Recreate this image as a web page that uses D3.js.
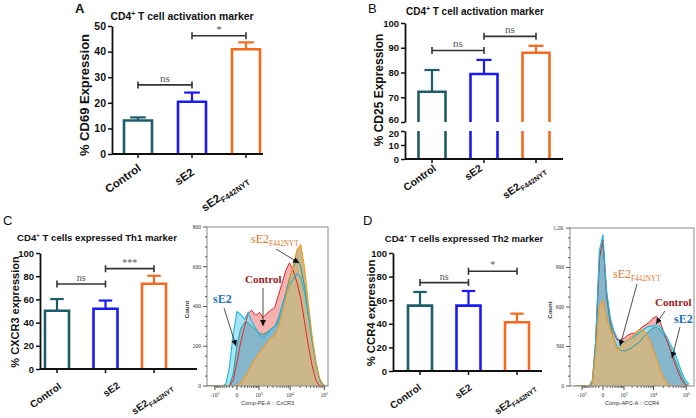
<!DOCTYPE html>
<html><head><meta charset="utf-8">
<script src="https://cdn.jsdelivr.net/npm/d3@7"></script>
<style>body{margin:0;background:#fff}svg{display:block}</style>
</head><body>
<svg id="c" width="696" height="418"></svg>
<script>
// ---------------- DATA ----------------
const categories = ["Control", "sE2", "sE2F442NYT"];
const catMain = ["Control", "sE2", "sE2"];
const catSub = ["", "", "F442NYT"];

// Panel A – CD69
const cd69Means = [13.1, 20.4, 40.9];
const cd69Errors = [1.2, 3.6, 2.7];
const cd69Ticks = [0, 10, 20, 30, 40, 50];
const cd69Sig = [{from: 0, to: 1, y: 27, label: "ns"}, {from: 1, to: 2, y: 46.2, label: "*"}];

// Panel B – CD25 (broken axis)
const cd25Means = [72.2, 79.4, 88.0];
const cd25Errors = [8.8, 5.7, 2.8];
const cd25TicksUpper = [60, 70, 80, 90, 100];
const cd25TicksLower = [0, 10, 20];
const cd25Sig = [{from: 0, to: 1, y: 88.9, label: "ns"}, {from: 1, to: 2, y: 94.6, label: "ns"}];

// Panel C – CXCR3
const cxcr3Means = [50.2, 52.0, 73.5];
const cxcr3Errors = [10.1, 7.0, 6.9];
const pctTicks = [0, 20, 40, 60, 80, 100];
const cxcr3Sig = [{from: 0, to: 1, y: 73.3, label: "ns"}, {from: 1, to: 2, y: 86.5, label: "***"}];

// Panel D – CCR4
const ccr4Means = [55.4, 55.4, 41.3];
const ccr4Errors = [11.6, 12.4, 7.3];
const ccr4Sig = [{from: 0, to: 1, y: 74.9, label: "ns"}, {from: 1, to: 2, y: 84.5, label: "*"}];

// Flow histograms (fluorescence bins shared by all curves)
const histBins = [-1900,-1400,-1050,-750,-500,-330,-200,-85,0,85,200,330,500,750,1050,1400,1900,2500,3400,4400,5700,7400,9600,12500,16000,20700,26700,34300,44000,57000,73000,94000,121000];
// CXCR3 histogram counts
const cxcr3Control = [0,0,0,0,0,0,0,30,120,220,300,365,380,355,370,345,365,380,395,455,515,580,620,580,520,440,320,205,105,30,0,0,0];
const cxcr3SE2     = [0,0,0,0,0,10,90,260,375,360,335,370,325,290,255,240,260,280,300,320,405,455,505,540,565,545,470,355,240,120,30,5,0];
const cxcr3SE2F    = [0,0,0,0,0,0,0,0,0,15,45,70,105,140,170,190,215,240,255,295,355,440,520,610,685,710,595,420,255,120,40,5,0];
const cxcr3Other   = [0,0,0,0,0,0,0,60,200,290,320,320,300,280,265,260,270,285,300,340,400,470,540,600,640,600,500,360,230,110,30,0,0];
const cxcr3YTicks = [0, 200, 400, 600, 800];
// CCR4 histogram counts
const ccr4Control = [0,0,0,0,0,30,330,980,1110,700,500,410,350,350,365,385,400,400,425,450,465,485,515,530,485,410,335,260,180,105,45,10,0];
const ccr4SE2     = [0,0,0,0,0,45,350,1030,1150,730,515,425,365,335,335,350,365,380,400,425,440,455,455,465,450,410,365,310,260,180,105,45,15];
const ccr4SE2F    = [0,0,0,0,0,30,250,600,650,515,425,365,275,295,320,350,370,400,425,425,400,350,275,200,120,60,15,0,0,0,0,0,0];
const ccr4Other   = [0,0,0,0,0,20,300,950,1100,680,470,360,300,270,265,275,290,310,330,360,390,420,440,445,430,390,340,280,210,140,70,20,0];
const ccr4YTicks = [0, 300, 600, 900, 1200];
const ccr4YLabels = ["0", "300", "600", "900", "1.2K"];
const histXTicks = [-1000, 0, 1000, 10000, 100000];
const histXBase = ["-10", "0", "10", "10", "10"];
const histXExp = ["3", "", "3", "4", "5"];

// ---------------- STYLE ----------------
const barColors = ["#1f5c69", "#1a1af2", "#f46a1e"];
const SANS = "'Liberation Sans', Arial, sans-serif";
const SERIF = "'Liberation Serif', 'Times New Roman', serif";
const svg = d3.select("#c");

svg.append("defs").append("marker").attr("id", "arr")
  .attr("viewBox", "0 0 6 6").attr("refX", 6).attr("refY", 3)
  .attr("markerWidth", 6).attr("markerHeight", 6).attr("markerUnits", "userSpaceOnUse")
  .attr("orient", "auto").append("path").attr("d", "M0,0L6,3L0,6Z").attr("fill", "#111");

function title(x, y, parts, fs) {
  const t = svg.append("text").attr("x", x).attr("y", y).attr("text-anchor", "middle")
    .attr("font-family", SANS).attr("font-weight", "bold").attr("font-size", fs).attr("fill", "#111");
  t.append("tspan").text("CD4");
  t.append("tspan").attr("font-size", fs * 0.65).attr("dy", -4).text("+");
  t.append("tspan").attr("dy", 4).text(parts);
}
function letter(x, y, s, w) {
  svg.append("text").attr("x", x).attr("y", y).attr("font-family", SANS)
    .attr("font-weight", w).attr("font-size", 13).attr("fill", "#111").text(s);
}
function yLabel(x, y, s, fs) {
  svg.append("text").attr("transform", `translate(${x},${y}) rotate(-90)`).attr("text-anchor", "middle")
    .attr("font-family", SANS).attr("font-weight", "bold").attr("font-size", fs).attr("fill", "#111").text(s);
}
function styleAxis(g, fs) {
  g.select(".domain").attr("stroke", "#111").attr("stroke-width", 1.8);
  g.selectAll(".tick line").attr("stroke", "#111").attr("stroke-width", 1.5);
  g.selectAll(".tick text").attr("font-family", SANS).attr("font-weight", "bold")
    .attr("font-size", fs).attr("fill", "#111");
}
function catLabels(g, x, y0, fs, dx, dy) {
  categories.forEach((c, i) => {
    const t = g.append("text").attr("transform", `translate(${x(c) + dx[i]},${y0 + dy[i]}) rotate(-35)`)
      .attr("text-anchor", "end").attr("font-family", SANS).attr("font-weight", "bold")
      .attr("font-size", fs).attr("fill", "#111");
    t.append("tspan").text(catMain[i]);
    if (catSub[i]) t.append("tspan").attr("font-size", fs * 0.68).attr("dy", 3).text(catSub[i]);
  });
}
function xAxisLine(g, x, ax, axEnd, y0) {
  g.append("line").attr("x1", ax).attr("x2", axEnd).attr("y1", y0).attr("y2", y0)
    .attr("stroke", "#111").attr("stroke-width", 1.8);
  g.selectAll(".xt").data(categories).join("line").attr("x1", d => x(d)).attr("x2", d => x(d))
    .attr("y1", y0).attr("y2", y0 + 4).attr("stroke", "#111").attr("stroke-width", 1.5);
}
function errorBars(g, x, y, means, errs, bw) {
  categories.forEach((c, i) => {
    const cx = x(c), top = y(means[i] + errs[i]);
    g.append("line").attr("x1", cx).attr("x2", cx).attr("y1", y(means[i])).attr("y2", top)
      .attr("stroke", barColors[i]).attr("stroke-width", 2.2);
    g.append("line").attr("x1", cx - bw * 0.28).attr("x2", cx + bw * 0.28).attr("y1", top).attr("y2", top)
      .attr("stroke", barColors[i]).attr("stroke-width", 2.2);
  });
}
function brackets(g, x, y, sig, fs) {
  sig.forEach(s => {
    const x1 = x(categories[s.from]), x2 = x(categories[s.to]), yy = y(s.y);
    g.append("path").attr("d", `M${x1},${yy - 3.5}V${yy + 3.5}M${x1},${yy}H${x2}M${x2},${yy - 3.5}V${yy + 3.5}`)
      .attr("fill", "none").attr("stroke", "#333").attr("stroke-width", 1.6);
    g.append("text").attr("x", (x1 + x2) / 2).attr("y", yy - 3).attr("text-anchor", "middle")
      .attr("font-family", SERIF).attr("font-size", fs).attr("fill", "#555").text(s.label);
  });
}
function barPanel(o) {
  const g = svg.append("g");
  const x = d3.scalePoint().domain(categories).range([o.cx0, o.cx1]);
  const y = d3.scaleLinear().domain([0, o.ymax]).range([o.y0, o.y1]);
  g.selectAll(".bar").data(categories).join("path")
    .attr("d", (c, i) => `M${x(c) - o.bw / 2},${y(0)}V${y(o.means[i])}H${x(c) + o.bw / 2}V${y(0)}`)
    .attr("fill", "#fff").attr("stroke", (c, i) => barColors[i]).attr("stroke-width", 2.6);
  errorBars(g, x, y, o.means, o.errs, o.bw);
  const ya = g.append("g").attr("transform", `translate(${o.ax},0)`)
    .call(d3.axisLeft(y).tickValues(o.ticks).tickSize(4).tickSizeOuter(0).tickPadding(2));
  styleAxis(ya, o.tfs);
  xAxisLine(g, x, o.ax, o.axEnd, y(0));
  brackets(g, x, y, o.sig, o.sfs);
  catLabels(g, x, y(0), o.cfs, o.ldx, o.ldy);
}

// ---------------- PANEL A ----------------
letter(75, 13, "A", "bold");
title(182, 20, " T cell activation marker", 10.4);
yLabel(89, 95, "% CD69 Expression", 13);
barPanel({cx0: 138, cx1: 246, ax: 112, axEnd: 263, y0: 154, y1: 26, ymax: 50, bw: 28,
  means: cd69Means, errs: cd69Errors, ticks: cd69Ticks, sig: cd69Sig, tfs: 10.5, sfs: 11, cfs: 11.5,
  ldx: [4, 3, 3], ldy: [16, 20, 27]});

// ---------------- PANEL B (broken axis) ----------------
letter(368, 13, "B", "normal");
title(475, 15, " T cell activation marker", 10);
yLabel(383, 90, "% CD25 Expression", 12);
(function () {
  const g = svg.append("g");
  const x = d3.scalePoint().domain(categories).range([432, 536]);
  const yU = d3.scaleLinear().domain([60, 100]).range([122, 23]);
  const yL = d3.scaleLinear().domain([0, 20]).range([159, 131]);
  const bw = 27;
  categories.forEach((c, i) => {
    const l = x(c) - bw / 2, r = x(c) + bw / 2;
    g.append("path").attr("d", `M${l},${yL(0)}V${yL(20)}M${l},${yU(60)}V${yU(cd25Means[i])}H${r}V${yU(60)}M${r},${yL(20)}V${yL(0)}`)
      .attr("fill", "none").attr("stroke", barColors[i]).attr("stroke-width", 2.6);
  });
  errorBars(g, x, yU, cd25Means, cd25Errors, bw);
  const a1 = g.append("g").attr("transform", "translate(405,0)")
    .call(d3.axisLeft(yU).tickValues(cd25TicksUpper).tickSize(4).tickSizeOuter(0).tickPadding(2));
  styleAxis(a1, 9.5);
  a1.selectAll(".tick text").filter(d => d === 60).attr("dy", "0.1em");
  const a2 = g.append("g").attr("transform", "translate(405,0)")
    .call(d3.axisLeft(yL).tickValues(cd25TicksLower).tickSize(4).tickSizeOuter(0).tickPadding(2));
  styleAxis(a2, 9.5);
  a2.selectAll(".tick text").filter(d => d === 20).attr("dy", "0.55em");
  xAxisLine(g, x, 405, 563, yL(0));
  brackets(g, x, yU, cd25Sig, 11);
  catLabels(g, x, yL(0), 10.5, [5, -1, 10], [11, 11, 12]);
})();

// ---------------- PANEL C ----------------
letter(3, 225, "C", "normal");
title(97, 241, " T cells expressed Th1 marker", 9.6);
yLabel(19, 312, "% CXCR3 expression", 11);
barPanel({cx0: 57, cx1: 154, ax: 40, axEnd: 197, y0: 369, y1: 253, ymax: 100, bw: 24,
  means: cxcr3Means, errs: cxcr3Errors, ticks: pctTicks, sig: cxcr3Sig, tfs: 9.5, sfs: 10, cfs: 10,
  ldx: [5, 15, 19], ldy: [19, 18, 19]});

// ---------------- PANEL D ----------------
letter(363, 225, "D", "normal");
title(464, 242, " T cells expressed Th2 marker", 9.5);
yLabel(375, 313, "% CCR4 expression", 11.3);
barPanel({cx0: 420, cx1: 517, ax: 393, axEnd: 542, y0: 371, y1: 253, ymax: 100, bw: 24,
  means: ccr4Means, errs: ccr4Errors, ticks: pctTicks, sig: ccr4Sig, tfs: 9.5, sfs: 10, cfs: 10,
  ldx: [2, 4, 19], ldy: [18, 18, 17]});

// ---------------- HISTOGRAMS ----------------
function histPanel(o) {
  const g = svg.append("g");
  const x = d3.scaleSymlog().constant(300).domain(o.domain).range([o.x0, o.x1]);
  const y = d3.scaleLinear().domain([0, o.ymax]).range([o.y0, o.y1]);
  const cid = "clip" + o.id;
  svg.select("defs").append("clipPath").attr("id", cid).append("rect")
    .attr("x", o.x0).attr("y", o.y1).attr("width", o.x1 - o.x0).attr("height", o.y0 - o.y1);
  const pg = g.append("g").attr("clip-path", `url(#${cid})`);
  const area = d3.area().x((d, i) => x(histBins[i])).y0(y(0)).y1(d => y(d));
  const line = d3.line().x((d, i) => x(histBins[i])).y(d => y(d));
  pg.append("path").attr("d", area(o.control)).attr("fill", "#f7b2b0");
  pg.append("path").attr("d", area(o.se2)).attr("fill", "#8fdff4").attr("fill-opacity", 0.8);
  pg.append("path").attr("d", area(o.other)).attr("fill", "#6e9db5").attr("fill-opacity", 0.55);
  pg.append("path").attr("d", area(o.se2f)).attr("fill", "#cbb78a");
  pg.append("path").attr("d", line(o.other)).attr("fill", "none").attr("stroke", "#2a9d8f").attr("stroke-width", 1);
  pg.append("path").attr("d", line(o.control)).attr("fill", "none").attr("stroke", "#e3262a").attr("stroke-width", 1);
  pg.append("path").attr("d", line(o.se2)).attr("fill", "none").attr("stroke", "#22b6e2").attr("stroke-width", 1.1);
  pg.append("path").attr("d", line(o.se2f)).attr("fill", "none").attr("stroke", "#f79a1e").attr("stroke-width", 1.1);
  g.append("rect").attr("x", o.x0).attr("y", o.y1).attr("width", o.x1 - o.x0).attr("height", o.y0 - o.y1)
    .attr("fill", "none").attr("stroke", "#8a8a8a").attr("stroke-width", 1);
  // y ticks
  const yt = d3.range(0, o.ymax + 0.1, o.ymax / 16);
  g.selectAll(".ym").data(yt).join("line").attr("x1", d => o.x0 - (d % (o.ymax / 4) === 0 ? 4 : 2)).attr("x2", o.x0)
    .attr("y1", d => y(d)).attr("y2", d => y(d)).attr("stroke", "#333").attr("stroke-width", 0.8);
  g.selectAll(".yl").data(o.yticks).join("text").attr("x", o.x0 - 6).attr("y", d => y(d) + 1.8)
    .attr("text-anchor", "end").attr("font-family", SERIF).attr("font-size", 5.5).attr("fill", "#333")
    .text((d, i) => o.ylabels[i]);
  // x ticks
  const minor = [-900,-800,-700,-600,-500,-400,-300,-200,-100,100,200,300,400,500,600,700,800,900,
    2000,3000,4000,5000,6000,7000,8000,9000,20000,30000,40000,50000,60000,70000,80000,90000];
  g.selectAll(".xm").data(minor).join("line").attr("x1", d => x(d)).attr("x2", d => x(d))
    .attr("y1", o.y0).attr("y2", o.y0 + 2).attr("stroke", "#333").attr("stroke-width", 0.7);
  g.selectAll(".xM").data(histXTicks).join("line").attr("x1", d => x(d)).attr("x2", d => x(d))
    .attr("y1", o.y0).attr("y2", o.y0 + 4).attr("stroke", "#333").attr("stroke-width", 0.9);
  histXTicks.forEach((d, i) => {
    const t = g.append("text").attr("x", x(d)).attr("y", o.y0 + 11).attr("text-anchor", "middle")
      .attr("font-family", SERIF).attr("font-size", 5.5).attr("fill", "#333");
    t.append("tspan").text(histXBase[i]);
    if (histXExp[i]) t.append("tspan").attr("font-size", 4).attr("dy", -2.5).text(histXExp[i]);
  });
  g.append("text").attr("x", (o.x0 + o.x1) / 2).attr("y", o.y0 + 19).attr("text-anchor", "middle")
    .attr("font-family", SANS).attr("font-size", 5.5).attr("fill", "#333").text(o.xlabel);
  g.append("text").attr("transform", `translate(${o.x0 - 18},${(o.y0 + o.y1) / 2 + 3}) rotate(-90)`)
    .attr("text-anchor", "middle").attr("font-family", SANS).attr("font-weight", "bold")
    .attr("font-size", 6).attr("fill", "#333").text("Count");
  // annotations
  o.notes.forEach(n => {
    const t = g.append("text").attr("x", n.x).attr("y", n.y).attr("font-family", SERIF)
      .attr("font-weight", n.bold ? "bold" : "normal").attr("font-size", n.fs).attr("fill", n.color);
    t.append("tspan").text(n.main);
    if (n.sub) t.append("tspan").attr("font-size", n.fs * 0.6).attr("dy", 2.5).text(n.sub);
    g.append("line").attr("x1", n.a[0]).attr("y1", n.a[1]).attr("x2", n.a[2]).attr("y2", n.a[3])
      .attr("stroke", "#222").attr("stroke-width", 0.8).attr("marker-end", "url(#arr)");
  });
}

histPanel({id: "h1", domain: [-1900, 128000], x0: 207, x1: 328, y0: 386, y1: 227, ymax: 800,
  control: cxcr3Control, se2: cxcr3SE2, se2f: cxcr3SE2F, other: cxcr3Other,
  yticks: cxcr3YTicks, ylabels: cxcr3YTicks.map(String), xlabel: "Comp-PE-A :: CxCR3",
  notes: [
    {main: "sE2", sub: "F442NYT", x: 251, y: 243, fs: 12, color: "#e0762f", bold: false, a: [276, 249, 299, 263]},
    {main: "Control", x: 245, y: 283, fs: 11, color: "#9e1a1f", bold: true, a: [263, 288, 263, 326]},
    {main: "sE2", x: 213, y: 303, fs: 12, color: "#1f73c0", bold: true, a: [224, 308, 236, 346]}
  ]});

histPanel({id: "h2", domain: [-2700, 173000], x0: 570, x1: 694, y0: 386, y1: 228, ymax: 1200,
  control: ccr4Control, se2: ccr4SE2, se2f: ccr4SE2F, other: ccr4Other,
  yticks: ccr4YTicks, ylabels: ccr4YLabels, xlabel: "Comp-APC-A :: CCR4",
  notes: [
    {main: "sE2", sub: "F442NYT", x: 613, y: 278, fs: 12, color: "#e0762f", bold: false, a: [637, 284, 620, 346]},
    {main: "Control", x: 655, y: 306, fs: 11, color: "#9e1a1f", bold: true, a: [665, 311, 656, 324]},
    {main: "sE2", x: 674, y: 323, fs: 12, color: "#1f73c0", bold: true, a: [680, 327, 672, 358]}
  ]});
</script>
</body></html>
